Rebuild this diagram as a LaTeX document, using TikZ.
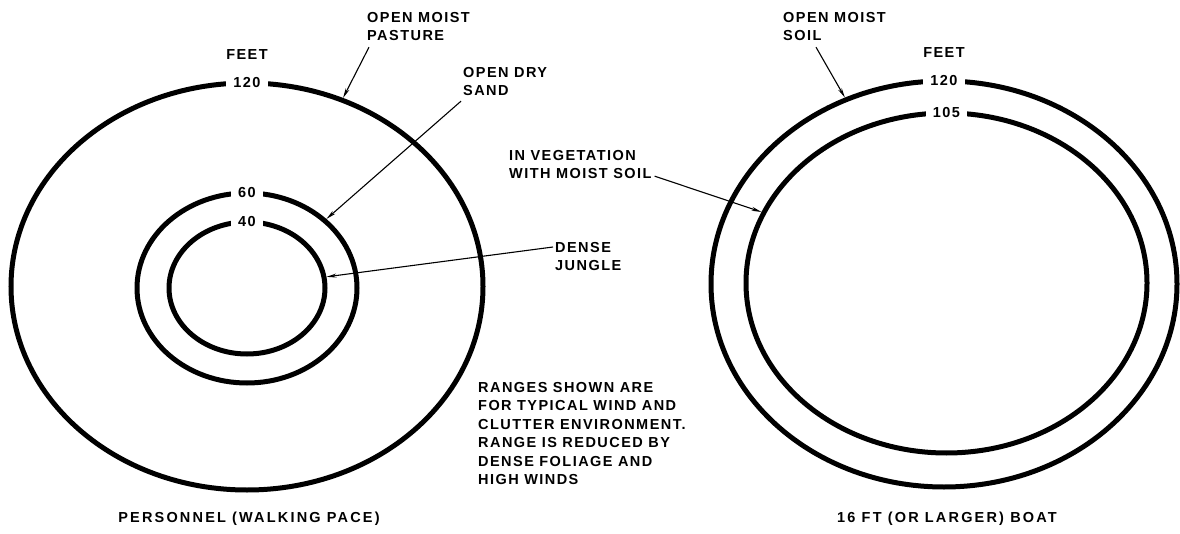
\documentclass[tikz,border=0pt]{standalone}
\usepackage{fontspec}
\setmainfont{Liberation Sans}
\usetikzlibrary{shapes.geometric,arrows.meta,positioning,calc}
\newcommand{\labelfont}{\bfseries\fontsize{14.5}{18.5}\selectfont\addfontfeature{LetterSpace=10}}
\newcommand{\captionfont}{\bfseries\fontsize{14.5}{18.5}\selectfont\addfontfeature{LetterSpace=15}}
\tikzset{
    ring/.style={draw=black, ellipse, line width=5pt, inner sep=0pt},
    rangelabel/.style={fill=white, inner xsep=7pt, inner ysep=1pt,
                       font=\labelfont},
    tag/.style={align=left, inner sep=0pt, anchor=north west,
                font=\labelfont},
    caption/.style={inner sep=0pt, font=\captionfont},
    % Arrow styles
    pointer/.style={-{Stealth[length=10pt,width=4pt]}, line width=1.1pt}
}
\begin{document}
\begin{tikzpicture}[x=1pt, y=-1pt]
    \useasboundingbox (0,0) rectangle (1180,534);

    % Personnel rings
    \node[ring, minimum width=472pt, minimum height=407pt] (pasture) at (247,286.5) {};
    \node[ring, minimum width=220pt, minimum height=190pt] (sand) at (247,288) {};
    \node[ring, minimum width=156pt, minimum height=132pt] (jungle) at (247,288) {};

    % Boat rings
    \node[ring, minimum width=466pt, minimum height=406pt] (soil) at (944,284) {};
    \node[ring, minimum width=401pt, minimum height=340pt] (veg) at (946.5,283) {};

    % Range labels in the ring gaps
    \node[rangelabel] (r120a) at ([yshift=-2.5pt]pasture.north) {120};
    \node[rangelabel] (r60) at ([yshift=-2.5pt]sand.north) {60};
    \node[rangelabel] (r40) at ([yshift=-2.5pt]jungle.north) {40};
    \node[rangelabel] (r120b) at ([yshift=-2.5pt]soil.north) {120};
    \node[rangelabel] (r105) at ([yshift=-2.5pt]veg.north) {105};
    \node[tag, above=28pt of r120a.center, anchor=center] (feetA) {FEET};
    \node[tag, above=28pt of r120b.center, anchor=center] (feetB) {FEET};

    % Terrain tags
    \node[tag] (pastureTxt) at (367,12) {OPEN MOIST\\PASTURE};
    \node[tag] (sandTxt) at (463,67) {OPEN DRY\\SAND};
    \node[tag] (jungleTxt) at (555,242) {DENSE\\JUNGLE};
    \node[tag] (vegTxt) at (509,150) {IN VEGETATION\\WITH MOIST SOIL};
    \node[tag] (soilTxt) at (783,12) {OPEN MOIST\\SOIL};

    \draw[pointer] ([xshift=2pt, yshift=-6pt]pastureTxt.south west) -- (pasture.63);
    \draw[pointer] ([xshift=-2pt, yshift=-5pt]sandTxt.south west) -- (sand.41);
    \draw[pointer] ([xshift=-2pt, yshift=-5pt]jungleTxt.north west) -- (jungle.8);
    \draw[pointer] ([xshift=3pt, yshift=3pt]vegTxt.south east) -- (veg.159);
    \draw[pointer] ([xshift=33pt, yshift=-6pt]soilTxt.south west) -- (soil.118);

    % Note and captions
    \node[tag] (note) at (478,382) {RANGES SHOWN ARE\\FOR TYPICAL WIND AND\\CLUTTER ENVIRONMENT.\\RANGE IS REDUCED BY\\DENSE FOLIAGE AND\\HIGH WINDS};
    \node[caption] (walkCap) at (249,519) {PERSONNEL (WALKING PACE)};
    \node[caption] (boatCap) at (947,519) {16 FT (OR LARGER) BOAT};
\end{tikzpicture}
\end{document}
